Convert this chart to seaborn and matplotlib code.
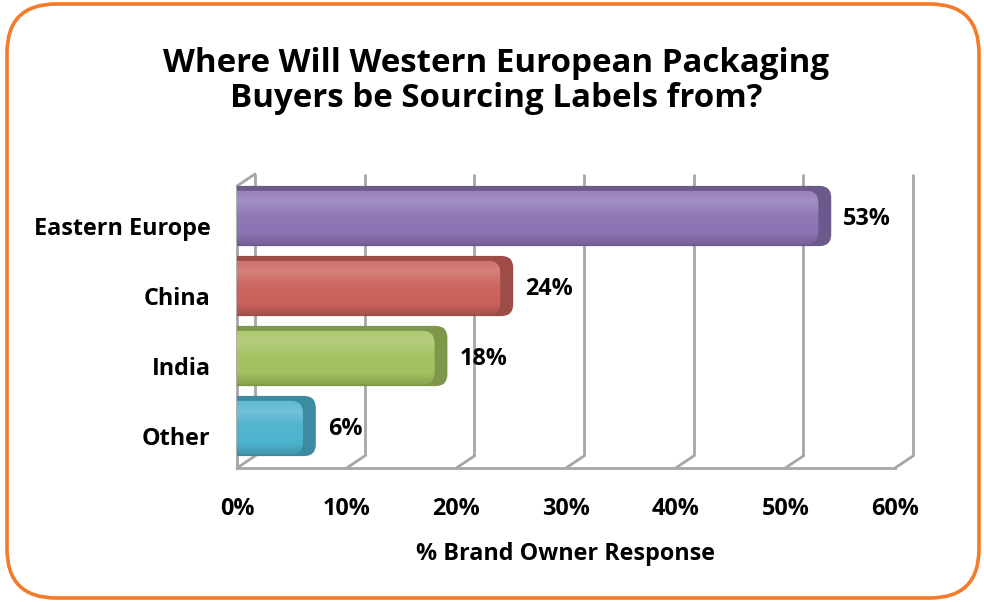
import matplotlib
matplotlib.use("Agg")
import matplotlib.pyplot as plt
import matplotlib.colors as mcolors
from matplotlib.patches import FancyBboxPatch
from matplotlib.transforms import ScaledTranslation
import numpy as np
import pandas as pd
import seaborn as sns

# Survey data
categories = ["Eastern Europe", "China", "India", "Other"]
values = [53, 24, 18, 6]
bar_colors = ["#8C74B4", "#CB615B", "#A3C15F", "#4DB2CD"]
x_ticks = [0, 10, 20, 30, 40, 50, 60]
tick_labels = [f"{t}%" for t in x_ticks]
title = "Where Will Western European Packaging\nBuyers be Sourcing Labels from?"
x_label = "% Brand Owner Response"

sns.set_theme(style="white")
plt.rcParams["font.family"] = ["Open Sans", "DejaVu Sans"]
plt.rcParams["font.weight"] = "bold"

W, H = 984, 602
fig = plt.figure(figsize=(W / 100, H / 100), dpi=100)
fig.patch.set_facecolor("white")

# Rounded orange frame around the whole chart
frame = FancyBboxPatch((7 / W, 4 / H), (979 - 7) / W, (598 - 4) / H,
                       boxstyle="round,pad=0,rounding_size=0.05",
                       mutation_aspect=W / H,
                       transform=fig.transFigure, facecolor="none",
                       edgecolor="#F47B2A", linewidth=2.6, zorder=10)
fig.patches.append(frame)

fig.text(496 / W, 1 - 81 / H, title, ha="center", va="center",
         fontsize=23.8, fontweight="bold", linespacing=1.1, color="black")

ax_l, ax_r, ax_t, ax_b = 237, 895, 174, 468
ax = fig.add_axes([ax_l / W, 1 - ax_b / H, (ax_r - ax_l) / W, (ax_b - ax_t) / H])

df = pd.DataFrame({"category": categories, "value": values})
sns.barplot(data=df, x="value", y="category", hue="category",
            palette=bar_colors, orient="h", width=0.86, legend=False, ax=ax)

xmin, xmax = 0, 60
ymin, ymax = 3.6, -0.6
ax.set_xlim(xmin, xmax)
ax.set_ylim(ymin, ymax)

px_x = (ax_r - ax_l) / (xmax - xmin)   # pixels per x unit
px_y = (ax_b - ax_t) / (ymin - ymax)   # pixels per category unit
depth_dx = 18 / px_x
depth_dy = 12 / px_y

grid_c = "#A6A6A6"
# Back wall gridlines and floor connectors
for t in x_ticks:
    ax.plot([t + depth_dx, t + depth_dx], [ymax, ymin - depth_dy],
            color=grid_c, lw=2, zorder=1, clip_on=False, solid_capstyle="butt")
    ax.plot([t, t + depth_dx], [ymin, ymin - depth_dy],
            color=grid_c, lw=2, zorder=1, clip_on=False)
# Left side wall edge
wall_top = ymax + depth_dy
ax.plot([0, 0], [wall_top, ymin], color=grid_c, lw=2, zorder=1, clip_on=False)
ax.plot([0, depth_dx], [wall_top, ymax], color=grid_c, lw=2, zorder=1, clip_on=False)


def shade(c, f):
    rgb = np.array(mcolors.to_rgb(c))
    if f >= 0:
        return tuple(rgb + (1 - rgb) * f)
    return tuple(rgb * (1 + f))


# Replace flat bars with rounded, shaded ones
r_x = 12 / px_x
aspect = px_x / px_y
bars = list(ax.patches)
for bar, c in zip(bars, bar_colors):
    x0, y0 = bar.get_x(), bar.get_y()
    w, h = bar.get_width(), bar.get_height()
    bar.remove()
    # side / top depth face
    back = FancyBboxPatch((x0 - r_x, y0), w + r_x + 13 / px_x, h,
                          boxstyle=f"round,pad=0,rounding_size={r_x}",
                          mutation_aspect=aspect, facecolor=shade(c, -0.22),
                          edgecolor="none", zorder=3)
    ax.add_patch(back)
    top_in = 5 / px_y
    bot_in = 2 / px_y
    front = FancyBboxPatch((x0 - r_x, y0 + top_in), w + r_x, h - top_in - bot_in,
                           boxstyle=f"round,pad=0,rounding_size={r_x}",
                           mutation_aspect=aspect, facecolor=c,
                           edgecolor="none", zorder=4)
    ax.add_patch(front)
    stops = [(0.0, shade(c, 0.10)), (0.2, shade(c, 0.2)), (0.45, shade(c, 0.04)),
             (0.8, c), (1.0, shade(c, -0.15))]
    cmap = mcolors.LinearSegmentedColormap.from_list("g", stops)
    grad = np.linspace(0, 1, 64).reshape(-1, 1)
    im = ax.imshow(grad, cmap=cmap, aspect="auto", origin="upper",
                   extent=[x0 - r_x, x0 + w, y0 + h - bot_in, y0 + top_in],
                   zorder=5, interpolation="bilinear")
    im.set_clip_path(front)

ax.set_xlim(xmin, xmax)
ax.set_ylim(ymin, ymax)

fs = 16.8
# Value labels
for i, v in enumerate(values):
    ax.annotate(f"{v}%", xy=(v, i), xytext=(25, -3), textcoords="offset pixels",
                ha="left", va="center", fontsize=fs, fontweight="bold",
                color="black", zorder=7, annotation_clip=False)

ax.set_xticks(x_ticks)
ax.set_xticklabels(tick_labels)
ax.set_xlabel(x_label, fontsize=fs, fontweight="bold", labelpad=15, color="black")
ax.set_ylabel("")
ax.tick_params(axis="x", length=5, width=1.5, color=grid_c, pad=16,
               labelsize=fs, labelcolor="black", direction="out")
ax.tick_params(axis="y", length=0, pad=19, labelsize=fs, labelcolor="black")
for lab in ax.get_xticklabels() + ax.get_yticklabels():
    lab.set_fontweight("bold")
offset = ScaledTranslation(0, -0.10, fig.dpi_scale_trans)
for lab in ax.get_yticklabels():
    lab.set_transform(lab.get_transform() + offset)

for s in ["top", "right", "left"]:
    ax.spines[s].set_visible(False)
ax.spines["bottom"].set_color(grid_c)
ax.spines["bottom"].set_linewidth(2)
ax.set_facecolor("none")
ax.grid(False)

fig.savefig("out.png", dpi=100, facecolor="white")
